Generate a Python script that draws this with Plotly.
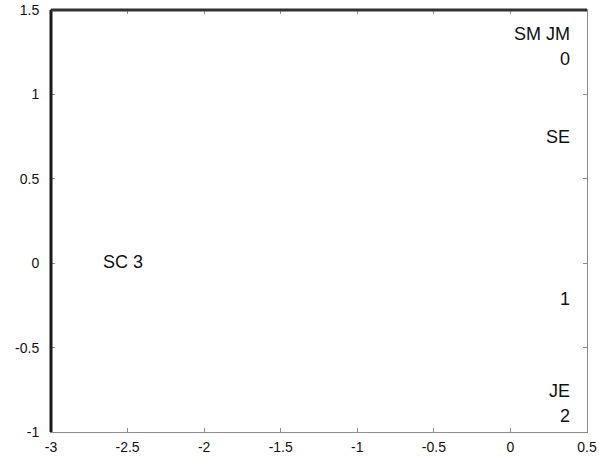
import plotly.graph_objects as go

# label data
labels = ["SM JM", "0", "SE", "SC 3", "1", "JE", "2"]
label_x = [0.40, 0.40, 0.40, -2.53, 0.40, 0.40, 0.40]
label_y = [1.36, 1.21, 0.75, 0.01, -0.21, -0.76, -0.905]
label_anchor = ["right", "right", "right", "center", "right", "right", "right"]

x_ticks = [-3, -2.5, -2, -1.5, -1, -0.5, 0, 0.5]
x_tick_text = ["-3", "-2.5", "-2", "-1.5", "-1", "-0.5", "0", "0.5"]
y_ticks = [-1, -0.5, 0, 0.5, 1, 1.5]
y_tick_text = ["-1", "-0.5", "0", "0.5", "1", "1.5"]

fig = go.Figure()
fig.add_trace(go.Scatter(x=[None], y=[None], mode="markers", showlegend=False,
                         hoverinfo="skip"))

for t, x, y, a in zip(labels, label_x, label_y, label_anchor):
    fig.add_annotation(x=x, y=y, text=t, showarrow=False, xanchor=a, yanchor="middle",
                       bgcolor="white", font=dict(family="Liberation Sans, Arial", size=18,
                                                  color="#111111"))

axis_common = dict(showgrid=False, zeroline=False, showline=True, linecolor="#8c8c8c",
                   linewidth=1, mirror="ticks", ticks="inside", ticklen=4,
                   tickcolor="#8c8c8c", tickwidth=1, automargin=False,
                   tickfont=dict(family="Liberation Sans, Arial", size=14, color="#111111"))

fig.update_xaxes(range=[-3, 0.5], tickvals=x_ticks, ticktext=x_tick_text,
                 ticklabelstandoff=2, **axis_common)
fig.update_yaxes(range=[-1, 1.5], tickvals=y_ticks, ticktext=y_tick_text,
                 ticklabelstandoff=8, **axis_common)

# heavier left and top frame lines
fig.add_shape(type="line", xref="paper", yref="paper", x0=0, x1=0, y0=0, y1=1,
              line=dict(color="#1a1a1a", width=3))
fig.add_shape(type="line", xref="paper", yref="paper", x0=0, x1=1, y0=1, y1=1,
              line=dict(color="#333333", width=3))

fig.update_layout(width=599, height=459, margin=dict(l=51, r=12, t=10, b=27),
                  plot_bgcolor="white", paper_bgcolor="white", showlegend=False)

fig.write_html("out.html", config={"displayModeBar": False},
               post_script="document.body.style.margin='0';document.body.style.overflow='hidden';")
